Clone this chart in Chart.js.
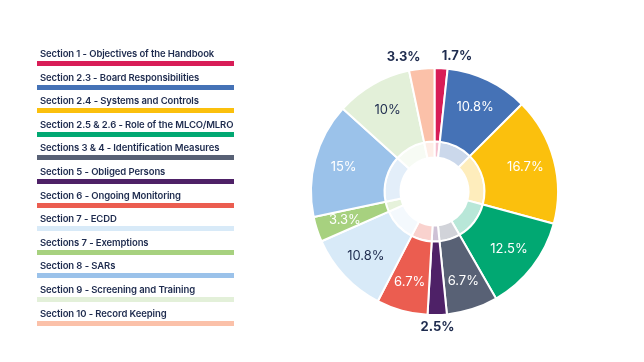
<!DOCTYPE html>
<html>
<head>
<meta charset="utf-8">
<script src="https://cdn.jsdelivr.net/npm/chart.js@4/dist/chart.umd.min.js"></script>
<style>
  html, body { margin: 0; padding: 0; background: #fff; }
  #wrap { position: relative; width: 644px; height: 362px; }
  #chart { position: absolute; left: 0; top: 0; }
  #legend { position: absolute; left: 37px; top: 0; width: 200px; }
  .row { position: absolute; left: 0; width: 197px; }
  .row span {
    position: absolute; left: 3px; bottom: 7px; white-space: nowrap;
    font: 600 9.5px Inter, sans-serif; color: #1e2b4e; letter-spacing: -0.1px;
  }
  .row i { position: absolute; left: 0; bottom: 0; width: 197px; height: 5px; }
</style>
</head>
<body>
<div id="wrap">
  <canvas id="chart" width="644" height="362"></canvas>
  <div id="legend"></div>
</div>
<script>
const categories = [
  'Section 1 - Objectives of the Handbook',
  'Section 2.3 - Board Responsibilities',
  'Section 2.4 - Systems and Controls',
  'Section 2.5 & 2.6 - Role of the MLCO/MLRO',
  'Sections 3 & 4 - Identification Measures',
  'Section 5 - Obliged Persons',
  'Section 6 - Ongoing Monitoring',
  'Section 7 - ECDD',
  'Sections 7 - Exemptions',
  'Section 8 - SARs',
  'Section 9 - Screening and Training',
  'Section 10 - Record Keeping'
];
const values = [1.7, 10.8, 16.7, 12.5, 6.7, 2.5, 6.7, 10.8, 3.3, 15, 10, 3.3];
const colors = ['#d81d57', '#4572b6', '#fbc00d', '#01a872', '#586175', '#4e2167',
                '#eb5d50', '#d8eaf8', '#a7d17f', '#9bc2ea', '#e3f0d9', '#fbc1a9'];
const labelColors = ['#fff', '#fff', '#fff', '#fff', '#fff', '#fff',
                     '#fff', '#1e2b4e', '#fff', '#fff', '#1e2b4e', '#fff'];
const outsideLabel = [true, false, false, false, false, true,
                      false, false, false, false, false, true];

// legend
const legend = document.getElementById('legend');
categories.forEach((c, i) => {
  const row = document.createElement('div');
  row.className = 'row';
  row.style.top = (66 + i * 23.6 - 24) + 'px';
  row.style.height = '24px';
  row.innerHTML = `<span>${c}</span><i style="background:${colors[i]}"></i>`;
  legend.appendChild(row);
});

const pale = (hex, a) => {
  const n = parseInt(hex.slice(1), 16);
  return `rgba(${n >> 16},${(n >> 8) & 255},${n & 255},${a})`;
};

const labelPlugin = {
  id: 'sliceLabels',
  afterDatasetsDraw(chart) {
    const ctx = chart.ctx;
    const meta = chart.getDatasetMeta(0);
    ctx.save();
    ctx.textBaseline = 'middle';
    meta.data.forEach((arc, i) => {
      const p = arc.getProps(['x', 'y', 'startAngle', 'endAngle', 'innerRadius', 'outerRadius'], true);
      const mid = (p.startAngle + p.endAngle) / 2;
      const txt = values[i] + '%';
      if (outsideLabel[i]) {
        const r = p.outerRadius + 12;
        const s = Math.cos(mid);
        ctx.font = 'bold 13px Inter, sans-serif';
        ctx.fillStyle = '#1e2b4e';
        ctx.textAlign = s > 0.04 ? 'left' : (s < -0.04 ? 'right' : 'center');
        ctx.fillText(txt, p.x + Math.cos(mid) * r, p.y + Math.sin(mid) * r);
      } else {
        const r = p.innerRadius + (p.outerRadius - p.innerRadius) * 0.6;
        ctx.font = '13px Inter, sans-serif';
        ctx.fillStyle = labelColors[i];
        ctx.textAlign = 'center';
        ctx.fillText(txt, p.x + Math.cos(mid) * r, p.y + Math.sin(mid) * r);
      }
    });
    ctx.restore();
  }
};

new Chart(document.getElementById('chart'), {
  type: 'doughnut',
  data: {
    labels: categories,
    datasets: [
      {
        data: values,
        backgroundColor: colors,
        borderColor: '#fff',
        borderWidth: 2,
        weight: 73.5
      },
      {
        data: values,
        backgroundColor: colors.map(c => pale(c, 0.28)),
        borderColor: '#fff',
        borderWidth: 2,
        weight: 16
      }
    ]
  },
  options: {
    responsive: false,
    animation: false,
    cutout: 34,
    layout: { padding: { left: 310, right: 85, top: 67, bottom: 46 } },
    plugins: {
      legend: { display: false },
      tooltip: { enabled: false }
    },
    events: []
  },
  plugins: [labelPlugin]
});
</script>
</body>
</html>
